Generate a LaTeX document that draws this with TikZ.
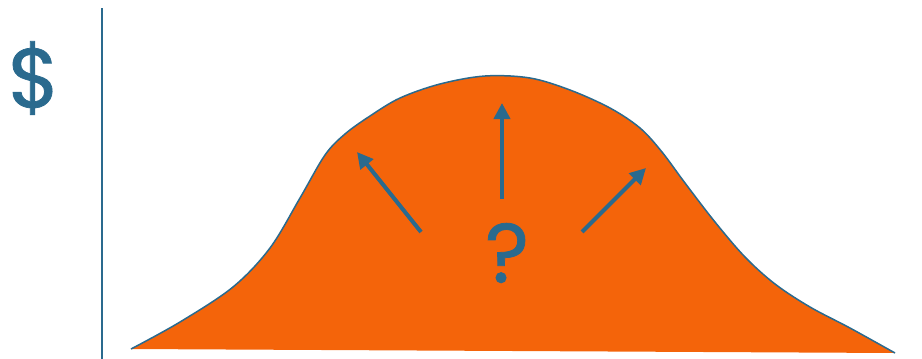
\documentclass[tikz,border=0pt]{standalone}
\usepackage{fontspec}
\setmainfont{Poppins}
\newfontfamily\symfont[FakeBold=0.9]{Poppins}
\usetikzlibrary{arrows.meta}
\definecolor{myblue}{RGB}{42,106,142}
\definecolor{myorange}{RGB}{244,100,10}
\tikzset{
  upArrow/.style={draw=myblue, line width=4pt, -{Triangle[length=16pt,width=16pt]}},
  bigSym/.style={text=myblue, font=\symfont\fontsize{84}{84}\selectfont, inner sep=0pt}
}
\begin{document}
\begin{tikzpicture}[x=1pt,y=-1pt]
\useasboundingbox (0,0) rectangle (922,359);
% axis
\coordinate (axTop) at (102,8);
\coordinate (axBot) at (102,359);
\draw[myblue, line width=2pt] (axTop) -- (axBot);
% hill
\def\hill{(131,349) (180,322) (233,287) (270,248) (300,198) (325,155) (345,134) (370,116) (400,98) (440,84) (485,76) (530,78) (570,90) (610,108) (640,128) (662,152) (685,183) (715,222) (745,257) (775,284) (810,307) (850,328) (895,353)}
\fill[myorange] plot[smooth, tension=0.55] coordinates {\hill} -- cycle;
\draw[myblue, line width=1.5pt] plot[smooth, tension=0.55] coordinates {\hill};
% text
\node[bigSym] (dollar) at (34,78) {\$};
\node[bigSym] (qm) at (507,253) {?};
% arrows
\coordinate (lT) at (421,232); \coordinate (lH) at (357,152);
\coordinate (mT) at (502,199); \coordinate (mH) at (502,103);
\coordinate (rT) at (582,232); \coordinate (rH) at (646,168);
\draw[upArrow] (lT) -- (lH);
\draw[upArrow] (mT) -- (mH);
\draw[upArrow] (rT) -- (rH);
\end{tikzpicture}
\end{document}
